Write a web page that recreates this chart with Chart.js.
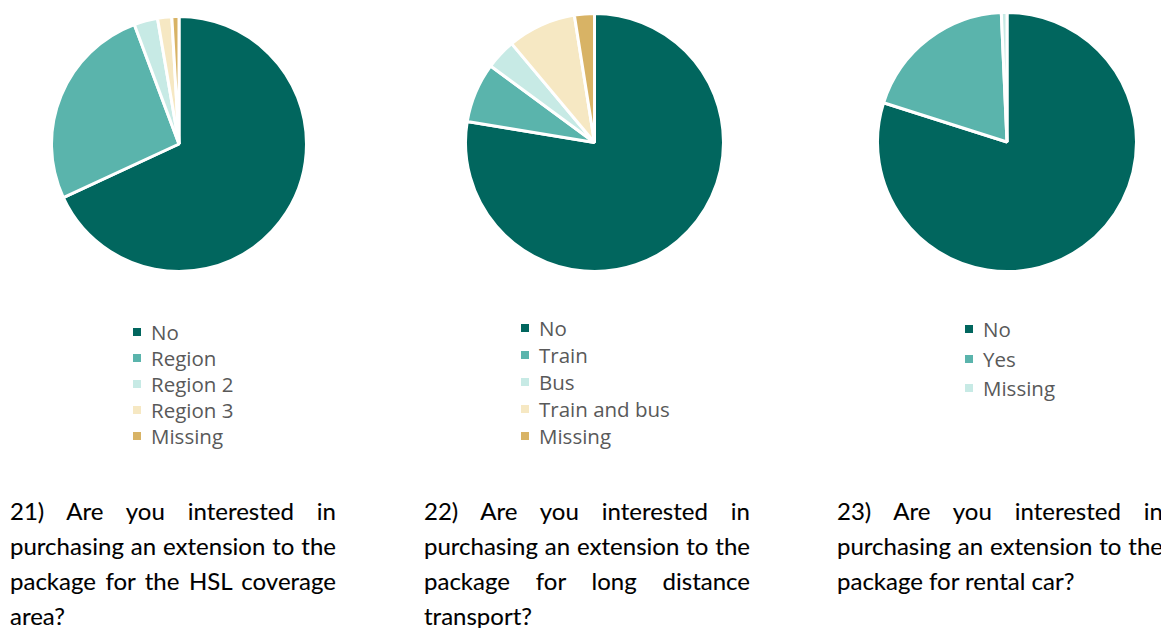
<!DOCTYPE html>
<html>
<head>
<meta charset="utf-8">
<script src="https://cdn.jsdelivr.net/npm/chart.js@4/dist/chart.umd.min.js"></script>
<style>
  body { margin: 0; width: 1161px; height: 628px; overflow: hidden; background: #fff; position: relative; }
  .pie { position: absolute; }
  .legend { position: absolute; font-family: "Open Sans", sans-serif; font-size: 20.5px; color: #595959; }
  .legend .row { display: flex; align-items: center; white-space: nowrap; }
  .legend .box { width: 8px; height: 8px; margin-right: 10px; }
  .caption { position: absolute; width: 326px; font-family: Lato, sans-serif; font-size: 24px; line-height: 35px; color: #000; -webkit-text-stroke: 0.1px #000; }
  .caption div { text-align: justify; text-align-last: justify; white-space: nowrap; }
  .caption div.last { text-align-last: left; }
</style>
</head>
<body>

<div class="pie" style="left:50px;top:15px;width:258px;height:258px"><canvas id="q21"></canvas></div>
<div class="pie" style="left:464px;top:12px;width:261px;height:261px"><canvas id="q22"></canvas></div>
<div class="pie" style="left:876px;top:11px;width:262px;height:262px"><canvas id="q23"></canvas></div>

<div class="legend" id="leg21" style="left:133px;top:319px"></div>
<div class="legend" id="leg22" style="left:521px;top:314px"></div>
<div class="legend" id="leg23" style="left:965px;top:314px"></div>

<div class="caption" style="left:10px;top:493px">
  <div>21) Are you interested in</div>
  <div>purchasing an extension to the</div>
  <div>package for the HSL coverage</div>
  <div class="last">area?</div>
</div>
<div class="caption" style="left:424px;top:493px">
  <div>22) Are you interested in</div>
  <div>purchasing an extension to the</div>
  <div>package for long distance</div>
  <div class="last">transport?</div>
</div>
<div class="caption" style="left:837px;top:493px">
  <div>23) Are you interested in</div>
  <div>purchasing an extension to the</div>
  <div class="last">package for rental car?</div>
</div>

<script>
// answer shares in percent
const q21Labels = ['No', 'Region', 'Region 2', 'Region 3', 'Missing'];
const q21Values = [68.1, 26.2, 3.0, 1.8, 0.9];

const q22Labels = ['No', 'Train', 'Bus', 'Train and bus', 'Missing'];
const q22Values = [77.6, 7.5, 3.8, 8.6, 2.5];

const q23Labels = ['No', 'Yes', 'Missing'];
const q23Values = [79.9, 19.4, 0.7];

const colors = ['#01665e', '#5ab4ac', '#c7eae5', '#f6e8c3', '#d8b365'];

// legend as a plain html list under each pie
const htmlLegend = {
  id: 'htmlLegend',
  afterUpdate(chart, args, opts) {
    const box = document.getElementById(opts.containerID);
    box.innerHTML = '';
    const items = chart.options.plugins.legend.labels.generateLabels(chart);
    items.forEach(item => {
      const row = document.createElement('div');
      row.className = 'row';
      row.style.height = opts.rowHeight + 'px';
      const sq = document.createElement('span');
      sq.className = 'box';
      sq.style.background = item.fillStyle;
      const txt = document.createElement('span');
      txt.textContent = item.text;
      row.appendChild(sq);
      row.appendChild(txt);
      box.appendChild(row);
    });
  }
};

function makePie(id, labels, values, legendId, rowHeight) {
  return new Chart(document.getElementById(id), {
    type: 'pie',
    data: {
      labels: labels,
      datasets: [{
        data: values,
        backgroundColor: colors.slice(0, values.length),
        borderColor: '#ffffff',
        borderWidth: 3
      }]
    },
    options: {
      responsive: true,
      maintainAspectRatio: false,
      animation: false,
      layout: { padding: 0 },
      plugins: {
        legend: { display: false },
        tooltip: { enabled: false },
        htmlLegend: { containerID: legendId, rowHeight: rowHeight }
      }
    },
    plugins: [htmlLegend]
  });
}

makePie('q21', q21Labels, q21Values, 'leg21', 26);
makePie('q22', q22Labels, q22Values, 'leg22', 27);
makePie('q23', q23Labels, q23Values, 'leg23', 29.7);
</script>
</body>
</html>
